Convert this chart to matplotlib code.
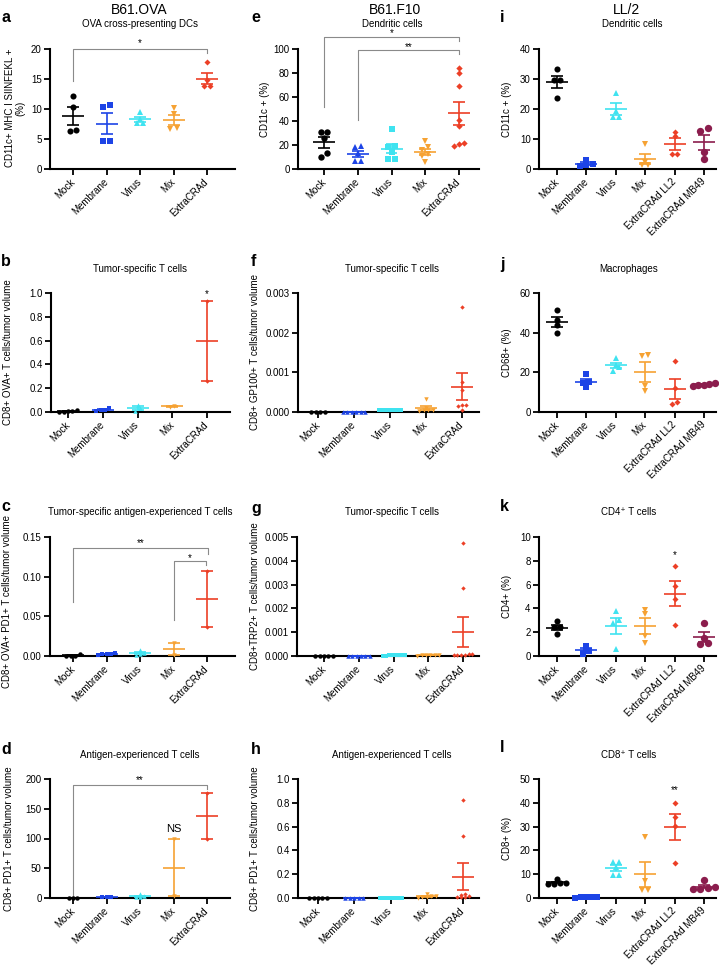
import numpy as np
import matplotlib.pyplot as plt

plt.rcParams['font.family'] = ['Liberation Sans', 'DejaVu Sans']

W, H = 719, 968

groups5 = ["Mock", "Membrane", "Virus", "Mix", "ExtraCRAd"]
groups6 = ["Mock", "Membrane", "Virus", "Mix", "ExtraCRAd LL2", "ExtraCRAd MB49"]

col5 = ["#000000", "#1d44e6", "#3fe3f0", "#f6a233", "#ec3f26"]
col6 = col5 + ["#8b1d4d"]

# B61.OVA
a_vals = [[12.1, 10.4, 6.3, 6.5], [10.7, 10.3, 4.6, 4.6], [9.5, 8.4, 7.6, 7.7],
          [10.1, 9.1, 6.8, 6.6], [17.8, 14.9, 13.8, 13.8]]
b_vals = [[0.02, 0.008, 0.005, 0.004, 0.003], [0.03, 0.02, 0.015, 0.01], [0.06, 0.03, 0.01],
          [0.05, 0.046], [0.935, 0.26]]
c_vals = [[0.0022, 0.0003, 0.0005, 0.0005], [0.004, 0.003, 0.003, 0.001, 0.002],
          [0.007, 0.004, 0.003, 0.001], [0.0158, 0.0015], [0.107, 0.037]]
d_vals = [[0.5, 0.3, 0.4], [2.5, 1.5, 2.0], [6.0, 3.0, 1.5, 2.0], [98.5, 3.0], [177.0, 100.0]]

# B61.F10
e_vals = [[31, 31, 26, 10, 13], [18, 19, 13, 6.5, 6.5], [33.5, 19, 18.5, 14, 8, 8],
          [23.5, 18.5, 16, 12.5, 10.5, 6], [84, 80, 69, 41, 35.5, 21.7, 21, 19.4]]
f_vals = [[0, 0, 0, 0], [0, 0, 0, 0, 0, 0],
          [0.00006, 0.00005, 0.00004, 0.00005, 0.00006, 0.00005, 0.00005],
          [0.00033, 0.0001, 0.00006, 0.00005, 0.00004, 0.00003],
          [0.00265, 0.00075, 0.00056, 0.00018, 0.00018, 0.00014, 0.00004]]
g_vals = [[0, 0, 0, 0, 0], [0, 0, 0, 0, 0, 0],
          [0.00003, 0.00003, 0.00002, 0.00003, 0.00004, 0.00003, 0.00002, 0.00003],
          [0.00004, 0.00003, 0.00003, 0.00002, 0.00003, 0.00003],
          [0.00474, 0.00286, 0.0001, 0.00008, 0.00006, 0.00005, 0.00004, 0.00003]]
h_vals = [[0, 0, 0, 0, 0], [0, 0, 0, 0, 0],
          [0.004, 0.003, 0.003, 0.002, 0.003, 0.004, 0.002, 0.003],
          [0.03, 0.02, 0.015, 0.01, 0.005, 0.003],
          [0.826, 0.518, 0.03, 0.025, 0.015, 0.01, 0.008, 0.005]]

# LL/2
i_vals = [[33.3, 29.8, 29.8, 23.7], [2.9, 1.8, 1.4, 1.1], [25.5, 19.5, 17.5, 17.5],
          [8.2, 2.5, 1.2, 1.3], [12.5, 11.1, 4.9, 5.0], [13.6, 12.8, 5.7, 3.5]]
j_vals = [[51.3, 46.3, 43.8, 40.0], [19.3, 15.0, 14.5, 12.5], [27.0, 23.5, 22.5, 20.8],
          [28.7, 28.2, 13.2, 10.5], [25.6, 12.0, 4.2, 4.9], [14.8, 14.2, 13.8, 13.3, 13.6]]
k_vals = [[2.9, 2.4, 2.4, 1.85], [0.86, 0.55, 0.45, 0.2], [3.75, 3.0, 2.75, 0.55],
          [3.9, 3.5, 1.7, 1.1], [7.6, 5.87, 4.83, 2.6], [2.8, 1.5, 1.1, 1.0]]
l_vals = [[8.0, 6.5, 6.2, 6.0, 6.0], [0.6, 0.4, 0.3, 0.3, 0.2], [15, 15, 13, 9.8, 9.8],
          [25.8, 7.0, 3.5, 3.2], [40.0, 34.0, 30.2, 14.5], [7.7, 4.8, 4.0, 3.8, 3.8]]

mk_a = ['o', 's', '^', 'v', 'D']
mk_e = ['o', '^', 's', 'v', 'D']
mk_i = ['o', 's', '^', 'v', 'D', 'o']

fig = plt.figure(figsize=(W / 100, H / 100), dpi=100)


def ftext(x, y, s, **kw):
    fig.text(x / W, 1 - y / H, s, **kw)


def swarm(v, py, d, maxw=22):
    # points that sit at about the same height go side by side, centred
    ypx = np.asarray(v, float) * py
    order = np.argsort(ypx, kind='stable')
    offs = np.zeros(len(ypx))
    rows, cur = [], [order[0]]
    for k in order[1:]:
        if ypx[k] - ypx[cur[0]] < 0.6 * d:
            cur.append(k)
        else:
            rows.append(cur)
            cur = [k]
    rows.append(cur)
    for r in rows:
        step = d if len(r) < 2 else min(d, maxw / (len(r) - 1))
        for j, k in enumerate(r):
            offs[k] = (j - (len(r) - 1) / 2) * step
    return offs


def panel(L, R, top, bot, x0, dx, vals, labels, colors, markers, ms,
          ymax, yticks, fmt, ylabel, ylx, yly=None):
    ax = fig.add_axes([L / W, 1 - bot / H, (R - L) / W, (bot - top) / H])
    ax.set_xlim((L - x0) / dx, (R - x0) / dx)
    ax.set_ylim(0, ymax)
    py = (bot - top) / ymax
    for i, v in enumerate(vals):
        v = np.asarray(v, float)
        c = colors[i]
        m = markers[i]
        size = ms * (0.7 if m == 'D' else 1.0)
        if i == 5:
            size = ms * 1.2
        d = size * 100 / 72 * (1.2 if m == 'D' else 1.0)
        offs = swarm(v, py, d) / dx
        ax.plot(i + offs, v, ls='none', marker=m, ms=size, color=c, mew=0,
                zorder=3, clip_on=False)
        mean = v.mean()
        sem = v.std(ddof=1) / np.sqrt(len(v))
        mw, cw = 11 / dx, 6 / dx
        kw = dict(color=c, lw=1.2, zorder=4, clip_on=False, solid_capstyle='butt')
        ax.plot([i - mw, i + mw], [mean, mean], **kw)
        ax.plot([i, i], [mean - sem, mean + sem], **kw)
        for yy in (mean - sem, mean + sem):
            ax.plot([i - cw, i + cw], [yy, yy], **kw)
    for s in ['top', 'right']:
        ax.spines[s].set_visible(False)
    for s in ['left', 'bottom']:
        ax.spines[s].set_linewidth(1.5)
    ax.tick_params(direction='out', length=4, width=1.3, labelsize=7, pad=2)
    ax.set_yticks(yticks)
    ax.set_yticklabels([fmt.format(t) for t in yticks])
    ax.set_xticks(range(len(labels)))
    ax.set_xticklabels(labels, rotation=45, ha='right', va='center',
                       rotation_mode='anchor', fontsize=7)
    ax.tick_params(axis='x', pad=4)
    if yly is None:
        yly = (top + bot) / 2
    ftext(ylx, yly, ylabel, rotation=90, ha='center', va='center',
          fontsize=7, linespacing=1.1)
    return ax


def bracket(ax, x1, x2, y, y1, y2, txt, ty):
    ax.plot([x1, x1, x2, x2], [y1, y, y, y2], color="#8a8a8a", lw=0.8, clip_on=False)
    ax.text((x1 + x2) / 2, ty, txt, ha='center', va='center', fontsize=7, clip_on=False)


# column 1: B61.OVA
ax = panel(50, 235, 49, 169, 73, 33.5, a_vals, groups5, col5, mk_a, 4.4,
           20, [0, 5, 10, 15, 20], "{:g}", "CD11c+ MHC I SIINFEKL +\n(%)", 15, 108)
bracket(ax, 0, 4, 20.0, 14.6, 19.3, '*', 21.0)

ax = panel(51, 230, 293, 412, 68, 34.75, b_vals, groups5, col5, mk_a, 3.2,
           1.0, [0, 0.2, 0.4, 0.6, 0.8, 1.0], "{:.1f}", "CD8+ OVA+ T cells/tumor volume", 8)
ax.text(4, 0.99, '*', ha='center', va='center', fontsize=7)

ax = panel(50, 235, 537, 656, 73, 33.5, c_vals, groups5, col5, mk_a, 3.2,
           0.15, [0, 0.05, 0.10, 0.15], "{:.2f}", "CD8+ OVA+ PD1+ T cells/tumor volume",
           7, 602)
bracket(ax, 0, 4.02, 0.1366, 0.0683, 0.128, '**', 0.142)
bracket(ax, 3, 3.98, 0.1198, 0.046, 0.1148, '*', 0.1235)

ax = panel(50, 230, 779, 898, 73, 33.5, d_vals, groups5, col5, mk_a, 3.2,
           200, [0, 50, 100, 150, 200], "{:g}", "CD8+ PD1+ T cells/tumor volume", 9)
bracket(ax, 0, 4, 190.5, 2, 183.8, '**', 199)
ax.text(3, 116, 'NS', ha='center', va='center', fontsize=8)

# column 2: B61.F10
ax = panel(298, 479, 49, 169, 324, 33.75, e_vals, groups5, col5, mk_e, 4.6,
           100, [0, 20, 40, 60, 80, 100], "{:g}", "CD11c + (%)", 265)
bracket(ax, 0, 4, 110, 51.7, 106.7, '*', 113.5)
bracket(ax, 1, 4, 99, 41, 95.5, '**', 102)

ax = panel(298, 479, 293, 412, 318, 36, f_vals, groups5, col5, mk_e, 3.2,
           0.003, [0, 0.001, 0.002, 0.003], "{:.3f}", "CD8+ GP100+ T cells/tumor volume", 255)

ax = panel(297, 479, 537, 656, 324, 34.75, g_vals, groups5, col5, mk_e, 3.2,
           0.005, [0, 0.001, 0.002, 0.003, 0.004, 0.005], "{:.3f}",
           "CD8+TRP2+ T cells/tumor volume", 255)

ax = panel(298, 479, 779, 898, 318, 36.25, h_vals, groups5, col5, mk_e, 3.2,
           1.0, [0, 0.2, 0.4, 0.6, 0.8, 1.0], "{:.1f}", "CD8+ PD1+ T cells/tumor volume", 255)

# column 3: LL/2
ax = panel(539, 716, 49, 169, 557, 29.4, i_vals, groups6, col6, mk_i, 4.4,
           40, [0, 10, 20, 30, 40], "{:g}", "CD11c + (%)", 507)

ax = panel(539, 716, 293, 412, 557, 29.4, j_vals, groups6, col6, mk_i, 4.4,
           60, [0, 20, 40, 60], "{:g}", "CD68+ (%)", 507)

ax = panel(539, 716, 537, 656, 557, 29.4, k_vals, groups6, col6, mk_i, 4.4,
           10, [0, 2, 4, 6, 8, 10], "{:g}", "CD4+ (%)", 507)
ax.text(4, 8.5, '*', ha='center', va='center', fontsize=7)

ax = panel(539, 716, 779, 898, 557, 29.4, l_vals, groups6, col6, mk_i, 4.4,
           50, [0, 10, 20, 30, 40, 50], "{:g}", "CD8+ (%)", 507)
ax.text(4, 45.3, '**', ha='center', va='center', fontsize=7)

# headers, subtitles, panel letters
ftext(139, 10, "B61.OVA", ha='center', va='center', fontsize=10)
ftext(395, 10, "B61.F10", ha='center', va='center', fontsize=10)
ftext(626, 10, "LL/2", ha='center', va='center', fontsize=10)

subs = [(140, 24, "OVA cross-presenting DCs"), (392, 24, "Dendritic cells"),
        (632, 24, "Dendritic cells"),
        (140, 269, "Tumor-specific T cells"), (392, 269, "Tumor-specific T cells"),
        (629, 269, "Macrophages"),
        (140, 512, "Tumor-specific antigen-experienced T cells"),
        (392, 512, "Tumor-specific T cells"), (629, 512, "CD4\u207a T cells"),
        (140, 755, "Antigen-experienced T cells"), (392, 755, "Antigen-experienced T cells"),
        (629, 755, "CD8\u207a T cells")]
for x, y, s in subs:
    ftext(x, y, s, ha='center', va='center', fontsize=7)

letters = [(1, 17, 'a'), (251, 17, 'e'), (500, 17, 'i'),
           (1, 262, 'b'), (251, 262, 'f'), (500, 265, 'j'),
           (1, 507, 'c'), (251, 508, 'g'), (500, 507, 'k'),
           (1, 749, 'd'), (251, 749, 'h'), (500, 748, 'l')]
for x, y, s in letters:
    ftext(x, y, s, ha='left', va='center', fontsize=11.5, fontweight='bold')

fig.savefig("out.png", dpi=100)
